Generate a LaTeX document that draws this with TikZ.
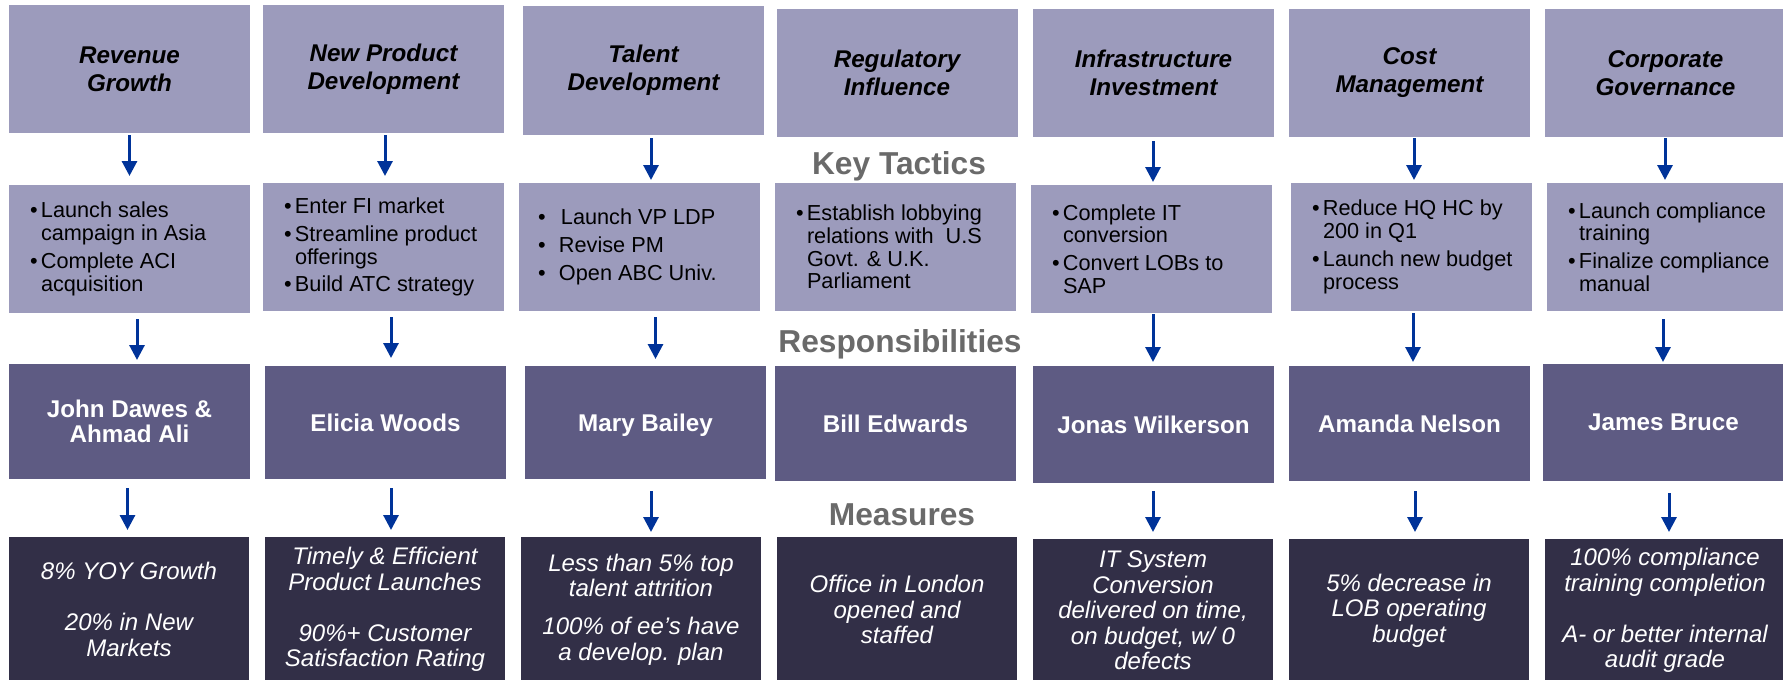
\documentclass[tikz,border=0pt]{standalone}
\usepackage{fontspec}
\setmainfont{Liberation Sans}
\usetikzlibrary{arrows.meta}
\definecolor{lav}{RGB}{156,155,188}
\definecolor{midp}{RGB}{94,91,131}
\definecolor{darkp}{RGB}{50,47,71}
\definecolor{arrblue}{RGB}{0,51,153}
\definecolor{hdrgray}{RGB}{106,106,106}
\tikzset{
  box/.style={rectangle, inner sep=0pt, outer sep=0pt, minimum width=241pt, align=center},
  goal/.style={box, fill=lav, minimum height=128pt, text=black, font=\fontsize{24.2}{28}\selectfont\bfseries\itshape},
  tact/.style={box, fill=lav, minimum height=128pt},
  resp/.style={box, fill=midp, text=white, font=\fontsize{24.2}{25}\selectfont\bfseries},
  meas/.style={box, fill=darkp, minimum width=240pt, text=white, font=\fontsize{24}{25.5}\selectfont\itshape},
  bul/.style={inner sep=0pt, outer sep=0pt, anchor=west, align=left, text=black, font=\fontsize{21.7}{22.8}\selectfont},
  hdr/.style={anchor=base, text=hdrgray, font=\fontsize{31.7}{36}\selectfont\bfseries},
  arr/.style={draw=arrblue, line width=3pt, -{Triangle[width=15pt,length=15pt]}}
}
\newcommand\bu{\makebox[11pt][l]{\textbullet}}
\newcommand\ind{\hspace*{11pt}}
\newcommand\conn[5]{%
  \path ([xshift=#3pt]#1.south) coordinate (ca);
  \path (#2.north) coordinate (cb);
  \draw[arr, shorten <=#4pt, shorten >=#5pt] (ca) -- (ca |- cb);}
\begin{document}
\begin{tikzpicture}[x=1pt,y=-1pt]
\path[use as bounding box] (0,0) rectangle (1783,680);
\clip (0,0) rectangle (1783,680);

% Row 1: objectives
\node[goal] (g1) at (129.5,69) {Revenue\\Growth};
\node[goal] (g2) at (383.5,69) {New Product\\Development};
\node[goal, minimum height=129pt] (g3) at (643.5,70.5) {Talent\\Development};
\node[goal] (g4) at (897,73) {Regulatory\\Influence};
\node[goal] (g5) at (1153.5,73) {Infrastructure\\Investment};
\node[goal] (g6) at (1409.5,73) {Cost\\Management};
\node[goal] (g7) at (1665.5,73) {Corporate\\Governance};

% Row 2: tactics
\node[tact] (t1) at (129.5,249) {};
\node[tact] (t2) at (383.5,247) {};
\node[tact] (t3) at (639.5,247) {};
\node[tact] (t4) at (895.5,247) {};
\node[tact] (t5) at (1151.5,249) {};
\node[tact] (t6) at (1411.5,247) {};
\node[tact] (t7) at (1667.5,247) {};

\node[bul] (b1) at ([xshift=21pt]t1.west) {\bu Launch sales\\\ind campaign in Asia\\[5pt]\bu Complete ACI\\\ind acquisition};
\node[bul] (b2) at ([xshift=21pt]t2.west) {\bu Enter FI market\\[5pt]\bu Streamline product\\\ind offerings\\[5pt]\bu Build ATC strategy};
\node[bul] (b3) at ([xshift=19pt]t3.west) {\makebox[23pt][l]{\textbullet}Launch VP LDP\\[5pt]\makebox[21pt][l]{\textbullet}Revise PM\\[5pt]\makebox[21pt][l]{\textbullet}Open ABC Univ.};
\node[bul] (b4) at ([xshift=21pt]t4.west) {\bu Establish lobbying\\\ind relations with\ \ U.S\\\ind Govt. \& U.K.\\\ind Parliament};
\node[bul] (b5) at ([xshift=21pt]t5.west) {\bu Complete IT\\\ind conversion\\[5pt]\bu Convert LOBs to\\\ind SAP};
\node[bul] (b6) at ([xshift=21pt]t6.west) {\bu Reduce HQ HC by\\\ind 200 in Q1\\[5pt]\bu Launch new budget\\\ind process};
\node[bul] (b7) at ([xshift=21pt]t7.west) {\bu Launch compliance\\\ind training\\[5pt]\bu Finalize compliance\\\ind manual};

% Row 3: responsibilities
\node[resp, minimum height=115pt] (p1) at (129.5,421.5) {John Dawes \&\\Ahmad Ali};
\node[resp, minimum height=113pt, text depth=0pt] (p2) at (385.5,422.5) {Elicia Woods};
\node[resp, minimum height=113pt, text depth=0pt] (p3) at (645.5,422.5) {Mary Bailey};
\node[resp, minimum height=115pt, text depth=0pt] (p4) at (895.5,423.5) {Bill Edwards};
\node[resp, minimum height=117pt, text depth=0pt] (p5) at (1153.5,424.5) {Jonas Wilkerson};
\node[resp, minimum height=115pt, text depth=0pt] (p6) at (1409.5,423.5) {Amanda Nelson};
\node[resp, minimum height=117pt, text depth=0pt] (p7) at (1663.5,422.5) {James Bruce};

% Row 4: measures
\node[meas, minimum height=145pt] (m1) at (129,609.5) {8\% YOY Growth\\[25.5pt]20\% in New\\Markets};
\node[meas, minimum height=145pt] (m2) at (385,609.5) {Timely \& Efficient\\Product Launches\\[25.5pt]90\%+ Customer\\Satisfaction Rating};
\node[meas, minimum height=145pt] (m3) at (641,609.5) {Less than 5\% top\\talent attrition\\[12.5pt]100\% of ee’s have\\a develop. plan};
\node[meas, minimum height=145pt] (m4) at (897,609.5) {Office in London\\opened and\\staffed};
\node[meas, minimum height=143pt] (m5) at (1153,610.5) {IT System\\Conversion\\delivered on time,\\on budget, w/ 0\\defects};
\node[meas, minimum height=143pt] (m6) at (1409,610.5) {5\% decrease in\\LOB operating\\budget};
\node[meas, minimum height=143pt] (m7) at (1665,610.5) {100\% compliance\\training completion\\[25.5pt]A- or better internal\\audit grade};

% Section headers
\node[hdr] (hk) at (899,174) {Key Tactics};
\node[hdr] (hr) at (900,352.5) {Responsibilities};
\node[hdr] (hm) at (902,525.5) {Measures};

% Arrows
\conn{g1}{t1}{0}{2}{9}
\conn{g2}{t2}{1.5}{2}{7}
\conn{g3}{t3}{7.5}{3}{3}
\conn{g5}{t5}{-0.5}{4}{3}
\conn{g6}{t6}{4.5}{1}{3}
\conn{g7}{t7}{-0.5}{1}{3}
\conn{t1}{p1}{7.5}{6}{4}
\conn{t2}{p2}{7.5}{6}{8}
\conn{t3}{p3}{16}{6}{7}
\conn{t5}{p5}{1.5}{1}{4}
\conn{t6}{p6}{1.5}{2}{4}
\conn{t7}{p7}{-4.5}{8}{2}
\conn{p1}{m1}{-2}{9}{7}
\conn{p2}{m2}{5.5}{9}{7}
\conn{p3}{m3}{5.5}{12}{5}
\conn{p5}{m5}{-0.5}{8}{7}
\conn{p6}{m6}{5.5}{10}{7}
\conn{p7}{m7}{5.5}{12}{7}
\end{tikzpicture}
\end{document}
